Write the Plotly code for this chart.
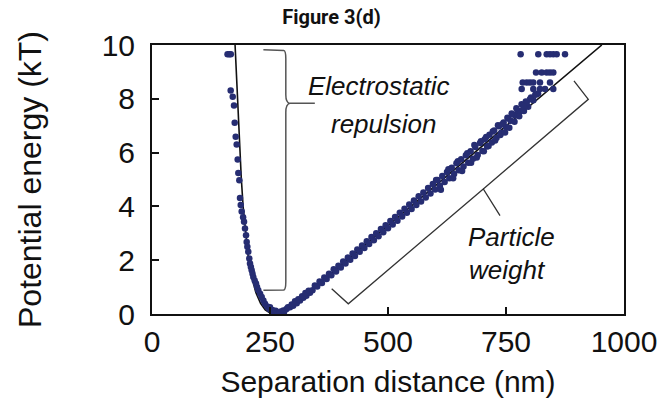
import plotly.graph_objects as go

# Measured points: repulsive branch near the wall
wall_x = [160, 163.8, 167, 166.7, 171, 173.7, 175.2, 177.3, 179.4, 181.5, 182.9, 185,
          186.4, 188, 190, 193, 195, 197, 199.2, 200.6, 202, 204, 206.1, 207.6, 209.5,
          211.2, 213, 214.6, 217.5, 220.3, 222.5, 225.2, 229, 232.4, 236, 239.4, 244,
          248.5, 253, 257, 262, 267.6, 273, 278.2, 285, 292.4, 299, 306.6, 313.6, 320.6,
          327, 334.7, 250, 255, 262, 267, 270, 280, 288, 296, 303, 310, 318, 325, 332]
wall_y = [9.66, 9.66, 9.66, 8.31, 8.08, 7.75, 7.11, 6.59, 6.30, 5.74, 5.24, 4.97,
          4.31, 4.05, 3.81, 3.60, 3.43, 3.18, 2.93, 2.68, 2.50, 2.31, 2.06, 1.88, 1.75,
          1.63, 1.50, 1.38, 1.25, 1.13, 1.00, 0.88, 0.75, 0.63, 0.50, 0.38, 0.28,
          0.19, 0.12, 0.07, -0.03, -0.02, 0.09, 0.13, 0.19, 0.25, 0.31, 0.40, 0.50, 0.60,
          0.68, 0.79, 0.25, 0.15, 0.12, 0.05, 0.03, 0.08, 0.25, 0.35, 0.47, 0.55, 0.66, 0.78, 0.86]

# Measured points: gravity-dominated branch
far_x = [340, 345, 350, 355, 360, 365, 370, 375, 380, 385, 390, 395, 400, 405, 410,
         415, 420, 425, 430, 435, 440, 445, 450, 455, 460, 465, 470, 475, 480, 485,
         490, 495, 500, 505, 510, 515, 520, 525, 530, 535, 540, 545, 550, 555, 560,
         565, 570, 575, 580, 585, 590, 595, 600, 605, 610, 615, 620, 625, 630, 635,
         640, 645, 650, 655, 660, 665, 670, 675, 680, 685, 690, 695, 700, 705, 710,
         715, 720, 725, 730, 735, 740, 745, 750, 755, 760, 765, 770, 775, 780]
far_y = [0.88, 1.06, 1.02, 1.21, 1.15, 1.36, 1.30, 1.50, 1.44, 1.66, 1.58, 1.79, 1.73, 1.95, 1.88,
         2.10, 2.02, 2.25, 2.16, 2.40, 2.31, 2.55, 2.45, 2.70, 2.60, 2.86, 2.74, 3.00, 2.89, 3.16,
         3.04, 3.30, 3.19, 3.46, 3.33, 3.61, 3.47, 3.76, 3.62, 3.91, 3.76, 4.07, 3.90, 4.22, 4.05,
         4.38, 4.18, 4.52, 4.33, 4.68, 4.48, 4.83, 4.63, 4.98, 4.77, 5.13, 4.91, 5.28, 5.05, 5.44,
         5.20, 5.60, 5.34, 5.75, 5.48, 5.90, 5.62, 6.05, 5.77, 6.21, 5.91, 6.36, 6.06, 6.50, 6.23,
         6.66, 6.38, 6.82, 6.55, 6.98, 6.74, 7.12, 6.95, 7.27, 7.18, 7.42, 7.38, 7.56, 7.55]

# Scattered points in the noisy upper range
spread_x = [602, 612, 628, 638, 648, 657, 668, 676, 683, 688, 697, 703, 708, 713, 722,
            727, 733, 738, 742, 748, 753, 757, 762, 768, 772, 778, 783, 788, 792, 797,
            803, 808, 812, 818, 790, 815, 800.8, 793.9, 786.7]
spread_y = [4.98, 4.62, 5.38, 5.05, 5.68, 5.32, 5.98, 5.62, 6.28, 5.82, 6.42, 6.05, 6.58, 6.25, 6.78,
            6.45, 7.02, 6.65, 7.05, 6.75, 7.30, 6.92, 7.45, 7.15, 7.65, 7.35, 7.80, 7.55, 7.90, 7.70,
            8.05, 7.95, 8.15, 8.20, 7.75, 8.17, 7.98, 7.86, 7.73]

# Discrete levels at the largest separations
top_x = [781, 818.4, 836.2, 843.2, 850.2, 857.4, 875,
         813.6, 825.6, 836.2, 843.2, 850.2,
         785.4, 793.9, 800.8, 807.8, 822, 843.2,
         783.2, 807.8, 822, 832.6, 850.2]
top_y = [9.66, 9.66, 9.66, 9.66, 9.66, 9.66, 9.66,
         8.98, 8.98, 8.98, 8.98, 8.98,
         8.61, 8.61, 8.61, 8.61, 8.61, 8.61,
         8.36, 8.36, 8.36, 8.36, 8.36]

# Theoretical potential energy profile
model_x = [176, 179, 182, 185, 189, 193, 198, 204, 211, 220, 230, 240, 250, 260,
           270, 285, 300, 320, 350, 400, 953]
model_y = [10.0, 8.8, 7.6, 6.45, 5.1, 4.0, 3.0, 2.1, 1.4, 0.8, 0.4, 0.15, 0.04, 0.0,
           0.03, 0.17, 0.36, 0.64, 1.07, 1.80, 10.0]

x_ticks = [0, 250, 500, 750, 1000]
y_ticks = [0, 2, 4, 6, 8, 10]

pts_x = wall_x + far_x + spread_x + top_x
pts_y = wall_y + far_y + spread_y + top_y

SANS = "Liberation Sans, Arial, sans-serif"

fig = go.Figure()
fig.add_trace(go.Scatter(x=model_x, y=model_y, mode="lines",
                         line=dict(color="#111111", width=1.6), hoverinfo="skip"))
fig.add_trace(go.Scatter(x=pts_x, y=pts_y, mode="markers",
                         marker=dict(color="#262d72", size=6.5, line=dict(width=0))))

# Brace for the electrostatic region
fig.add_shape(type="path", xref="x", yref="y",
              path="M 236,9.82 L 279,9.80 Q 283.5,9.78 283.5,9.5 L 283.5,8.15 "
                   "Q 283.5,7.85 292,7.83 L 345,7.83 M 292,7.83 Q 283.5,7.80 283.5,7.5 "
                   "L 283.5,1.2 Q 283.5,0.90 279,0.89 L 236,0.88",
              line=dict(color="#555555", width=1.5))
# Bracket along the particle-weight branch
fig.add_shape(type="path", xref="x", yref="y",
              path="M 380.7,0.94 L 415.9,0.38 L 701.9,4.65 L 737.3,3.66 "
                   "M 701.9,4.65 L 924.4,7.98 L 894,8.67",
              line=dict(color="#333333", width=1.3))

label_font = dict(family=SANS, size=26, color="#111111")
for txt, x, y in [("<i>Electrostatic</i>", 481, 8.47), ("<i>repulsion</i>", 491, 7.08),
                  ("<i>Particle</i>", 762, 2.86), ("<i>weight</i>", 754, 1.63)]:
    fig.add_annotation(x=x, y=y, xref="x", yref="y", text=txt, showarrow=False,
                       font=label_font, xanchor="center", yanchor="middle")

axis_common = dict(showline=True, linecolor="#111111", linewidth=2, mirror=True,
                   ticks="inside", ticklen=7, tickwidth=2, tickcolor="#111111",
                   showgrid=False, zeroline=False, automargin=False,
                   tickfont=dict(family=SANS, size=30, color="#111111"))

fig.update_layout(
    width=663, height=412,
    margin=dict(l=152, r=39, t=45, b=98),
    paper_bgcolor="white", plot_bgcolor="white",
    showlegend=False,
    title=dict(text="<b>Figure 3(d)</b>", x=0.5, xanchor="center", y=0.958, yanchor="middle",
               font=dict(family="Roboto, sans-serif", size=20, color="#111111")),
    xaxis=dict(range=[0, 1000], tickvals=x_ticks, ticktext=[str(v) for v in x_ticks],
               title=dict(text="Separation distance (nm)", standoff=14,
                          font=dict(family=SANS, size=30, color="#111111")),
               **axis_common),
    yaxis=dict(range=[0, 10], tickvals=y_ticks, ticktext=[str(v) for v in y_ticks],
               ticklabelstandoff=9,
               title=dict(text="Potential energy (kT)", standoff=50,
                          font=dict(family=SANS, size=32, color="#111111")),
               **axis_common),
)

fig.write_html("out.html")
